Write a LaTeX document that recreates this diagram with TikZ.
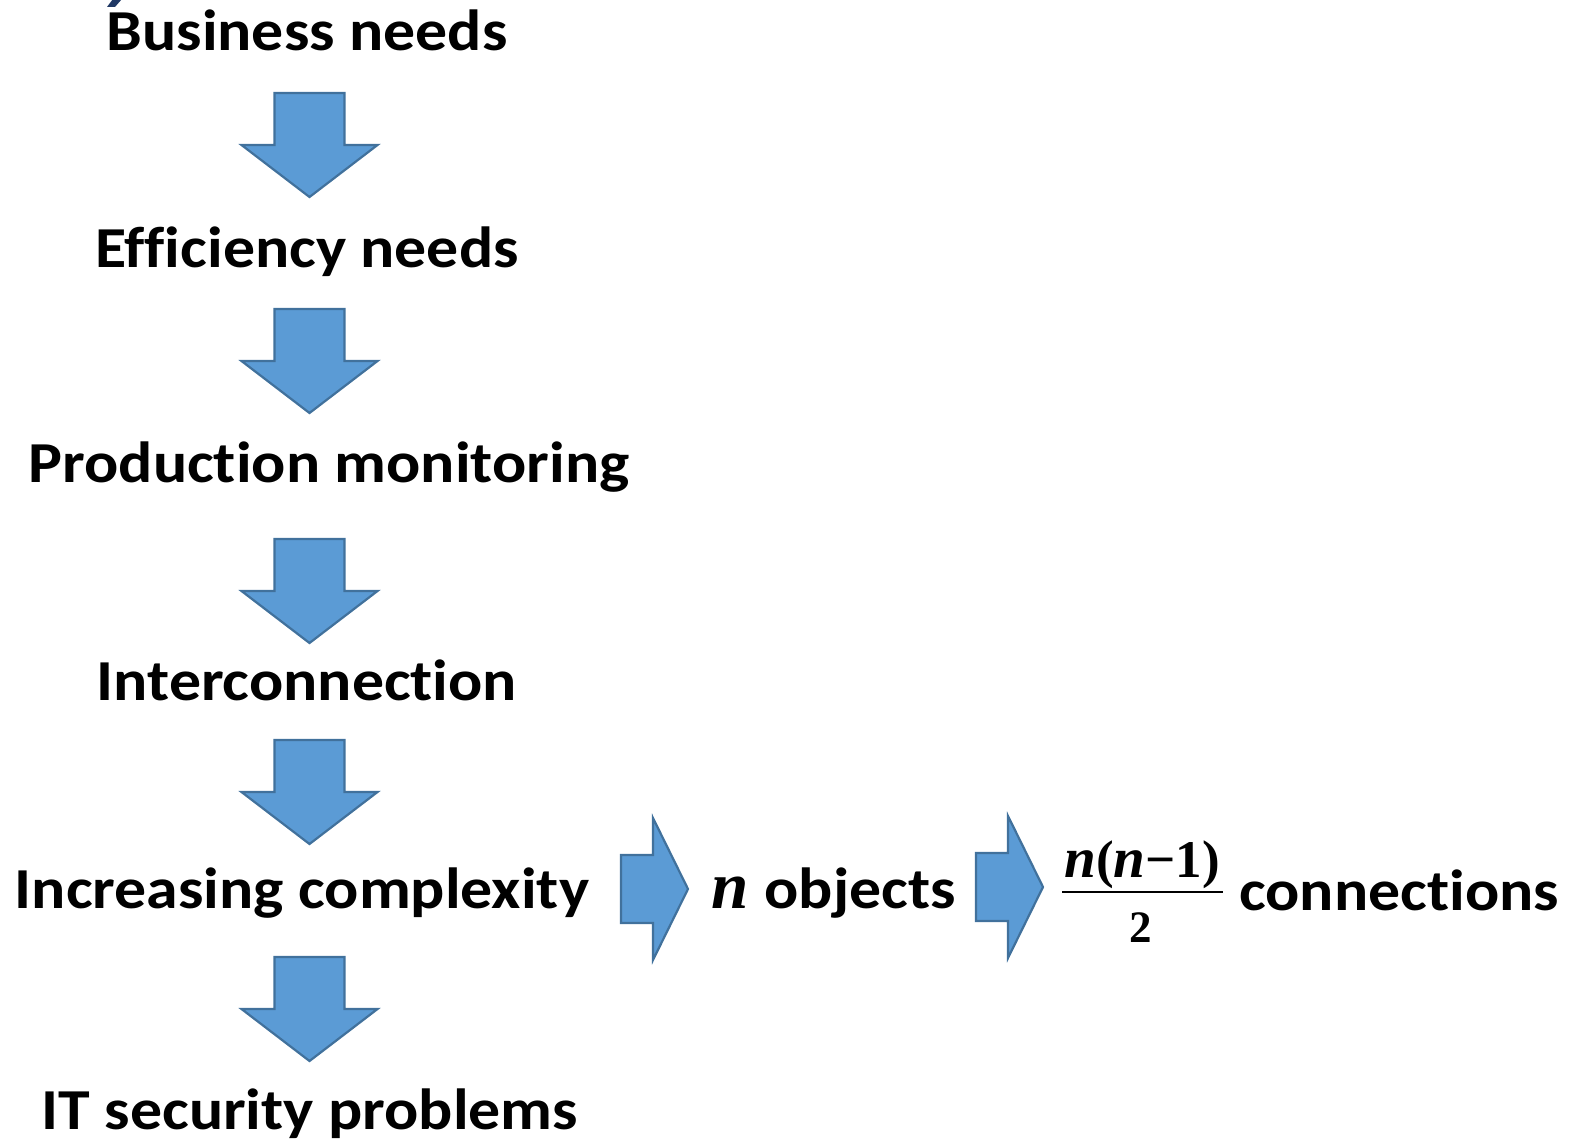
\documentclass[tikz,border=0pt]{standalone}
\usepackage{fontspec}
\setmainfont{Carlito}[FakeStretch=1.1, Ligatures=NoCommon]
\newfontfamily\formulafont{Liberation Serif}
\definecolor{arrowfill}{HTML}{5B9BD5}
\definecolor{arrowline}{HTML}{41719C}
\definecolor{navy}{HTML}{1F3864}
% symbols of the side chain: bold italic variable, bold upright digits
\newcommand{\varn}[1]{{\fontsize{#1}{#1}\formulafont\bfseries\itshape n}}
\newcommand{\upb}[1]{{\fontsize{53}{53}\formulafont\bfseries #1}}
\tikzset{
  label text/.style={font=\fontsize{58}{70}\selectfont\bfseries, inner sep=0pt, anchor=base},
  formula part/.style={inner sep=0pt, anchor=base},
  blockarrow/.style={fill=arrowfill, draw=arrowline, line width=2.2pt, line join=miter},
  down block/.pic={\path[blockarrow] (-35,0) -- (35,0) -- (35,52) -- (68,52)
      -- (0,104) -- (-68,52) -- (-35,52) -- cycle;},
  right block/.pic={\path[blockarrow] (0,-34) -- (32,-34) -- (32,-71) -- (67,0)
      -- (32,71) -- (32,34) -- (0,34) -- cycle;},
}
\begin{document}
\begin{tikzpicture}[x=1pt, y=-1pt]
  \useasboundingbox (0,0) rectangle (1590,1142);
  % fragment of a title mark at the top edge
  \fill[navy] (113,-1) -- (122,-1) -- (115,7) -- (107,7) -- cycle;

  % the chain of needs, top to bottom
  \node[label text] (business)   at (307,51)   {Business needs};
  \node[label text] (efficiency) at (307,267)  {Efficiency needs};
  \node[label text] (production) at (329,482)  {Production monitoring};
  \node[label text] (interconn)  at (307,700)  {Interconnection};
  \node[label text] (complexity) at (302,908)  {Increasing complexity};
  \node[label text] (security)   at (310,1129) {IT security problems};

  % down arrows between the steps
  \pic at (309.5,93)  {down block};
  \pic at (309.5,309) {down block};
  \pic at (309.5,539) {down block};
  \pic at (309.5,740) {down block};
  \pic at (309.5,957) {down block};

  % side chain: objects and their connections
  \pic at (621,889) {right block};
  \node[label text, anchor=base west] (objects) at (711,908)
    {\varn{67}\hspace{16pt}objects};
  \pic at (976,887) {right block};

  % n(n-1)/2 as numerator, rule and denominator
  \node[formula part] (numerator) at (1142,877)
    {\varn{57}\upb{(}\varn{57}\upb{\char"2212}\upb{1}\upb{)}};
  \node[formula part] (denominator) at (1141,942) {{\fontsize{45}{45}\formulafont\bfseries 2}};
  \draw[line width=2.6pt] (1062,892) -- (1223,892);

  \node[label text, anchor=base west] (connections) at (1239,910) {connections};
\end{tikzpicture}
\end{document}
